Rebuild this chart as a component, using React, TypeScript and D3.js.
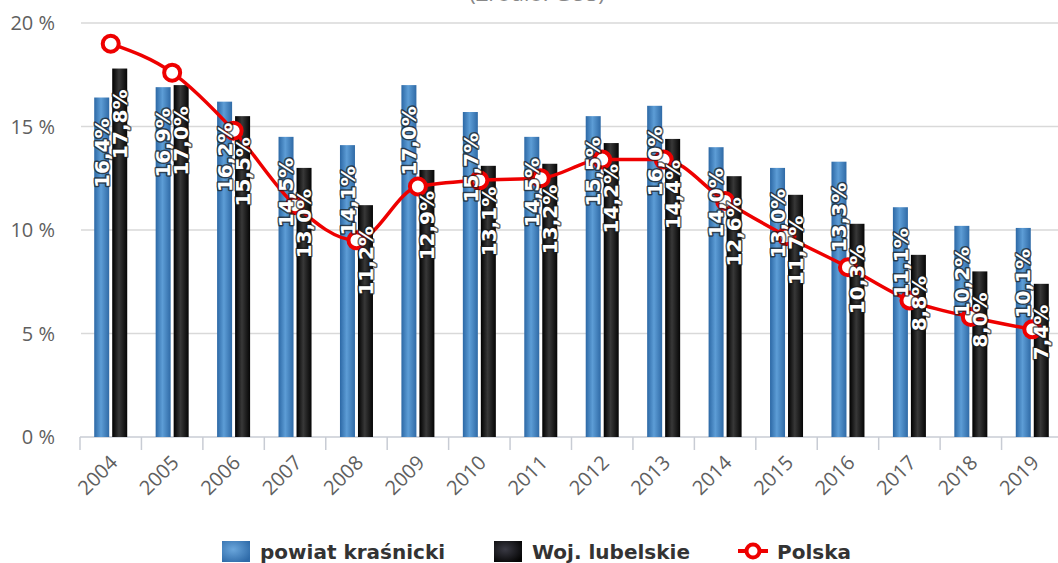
import React from "react";
import * as d3 from "d3";

const years = ["2004","2005","2006","2007","2008","2009","2010","2011","2012","2013","2014","2015","2016","2017","2018","2019"];
const powiat = [16.4,16.9,16.2,14.5,14.1,17.0,15.7,14.5,15.5,16.0,14.0,13.0,13.3,11.1,10.2,10.1];
const lubelskie = [17.8,17.0,15.5,13.0,11.2,12.9,13.1,13.2,14.2,14.4,12.6,11.7,10.3,8.8,8.0,7.4];
const polska = [19.0,17.6,14.8,11.2,9.5,12.1,12.4,12.5,13.4,13.4,11.4,9.7,8.2,6.6,5.8,5.2];
const yTicks = [0,5,10,15,20];

const W = 1058, H = 563;
const left = 80, right = 1063, top = 23, bottom = 437;

const fmt = (v: number) => v.toFixed(1).replace(".", ",") + "%";

export default function App() {
  const x = d3.scaleBand<string>().domain(years).range([left, right]).paddingInner(0).paddingOuter(0);
  const y = d3.scaleLinear().domain([0, 20]).range([bottom, top]);
  const bw = 15, gap = 1.5;
  const cx = (i: number) => (x(years[i]) as number) + x.bandwidth() / 2;
  const line = d3.line<number>().x((_, i) => cx(i)).y(d => y(d)).curve(d3.curveMonotoneX);

  const labelFont = "'DejaVu Sans', sans-serif";
  const axisFont = "'Open Sans', sans-serif";

  const dataLabel = (xPos: number, v: number, key: string) => (
    <text key={key} transform={`translate(${xPos},${y(v) + 21}) rotate(-90)`} textAnchor="end" dy="0.36em"
      fontFamily={labelFont} fontWeight="bold" fontSize={20} fill="#fff"
      stroke="#1a1a1a" strokeOpacity={0.7} strokeWidth={3} strokeLinejoin="round" style={{ paintOrder: "stroke" }}>
      {fmt(v)}
    </text>
  );

  return (
    <svg width={W} height={H} style={{ position: "absolute", left: 0, top: 0, background: "#fff" }}>
      <defs>
        <linearGradient id="gBlue" x1="0" x2="1" y1="0" y2="0">
          <stop offset="0" stopColor="#2c68a5" />
          <stop offset="0.45" stopColor="#5d9dd6" />
          <stop offset="1" stopColor="#2f6aa6" />
        </linearGradient>
        <linearGradient id="gBlack" x1="0" x2="1" y1="0" y2="0">
          <stop offset="0" stopColor="#000" />
          <stop offset="0.45" stopColor="#383838" />
          <stop offset="1" stopColor="#050505" />
        </linearGradient>
        <radialGradient id="rBlue" cx="0.4" cy="0.4" r="0.7">
          <stop offset="0" stopColor="#6aa6dc" />
          <stop offset="1" stopColor="#2e6aa8" />
        </radialGradient>
        <radialGradient id="rBlack" cx="0.4" cy="0.4" r="0.7">
          <stop offset="0" stopColor="#3a3a44" />
          <stop offset="1" stopColor="#050505" />
        </radialGradient>
      </defs>

      <text x={537} y={1} textAnchor="middle" fontFamily={axisFont} fontSize={22} fill="#888">(Źródło: GUS)</text>

      {/* gridlines and y labels */}
      {yTicks.map(t => (
        <g key={t}>
          {t > 0 && <line x1={left + 1} x2={W} y1={y(t)} y2={y(t)} stroke="#d9d9d9" strokeWidth={1.5} />}
          <text x={55} y={y(t)} dy="0.36em" textAnchor="end" fontFamily={axisFont} fontSize={20} fill="#5f5f5f">{t} %</text>
        </g>
      ))}

      {/* x axis */}
      <line x1={left} x2={W} y1={bottom} y2={bottom} stroke="#c8ccd4" strokeWidth={1.5} />
      {years.map((yr) => (
        <line key={"t" + yr} x1={x(yr) as number} x2={x(yr) as number} y1={bottom} y2={bottom + 13} stroke="#c8ccd4" strokeWidth={1.5} />
      ))}
      {years.map((yr, i) => (
        <text key={"l" + yr} transform={`translate(${cx(i) + 8},${bottom + 27}) rotate(-45)`} textAnchor="end"
          fontFamily={axisFont} fontSize={20} fill="#5f5f5f">{yr}</text>
      ))}

      {/* bars */}
      {powiat.map((v, i) => (
        <rect key={"p" + i} x={cx(i) - gap - bw} y={y(v)} width={bw} height={bottom - y(v)} fill="url(#gBlue)" />
      ))}
      {lubelskie.map((v, i) => (
        <rect key={"w" + i} x={cx(i) + gap} y={y(v)} width={bw} height={bottom - y(v)} fill="url(#gBlack)" />
      ))}

      {/* Polska line */}
      <path d={line(polska) as string} fill="none" stroke="#ee0000" strokeWidth={3.5} />
      {polska.map((v, i) => (
        <circle key={"c" + i} cx={cx(i)} cy={y(v)} r={8} fill="#fff" stroke="#ee0000" strokeWidth={4} />
      ))}

      {/* value labels */}
      {powiat.map((v, i) => dataLabel(cx(i) - gap - bw / 2, v, "lp" + i))}
      {lubelskie.map((v, i) => dataLabel(cx(i) + gap + bw / 2, v, "lw" + i))}

      {/* legend */}
      <g fontFamily={labelFont} fontWeight="bold" fontSize={20} fill="#333">
        <rect x={222} y={541} width={28} height={21} fill="url(#rBlue)" />
        <text x={260} y={559}>powiat kraśnicki</text>
        <rect x={494} y={541} width={28} height={21} fill="url(#rBlack)" />
        <text x={532} y={559}>Woj. lubelskie</text>
        <line x1={738} x2={768} y1={551} y2={551} stroke="#ee0000" strokeWidth={4} />
        <circle cx={753} cy={551} r={6.5} fill="#fff" stroke="#ee0000" strokeWidth={4} />
        <text x={777} y={559}>Polska</text>
      </g>
    </svg>
  );
}
